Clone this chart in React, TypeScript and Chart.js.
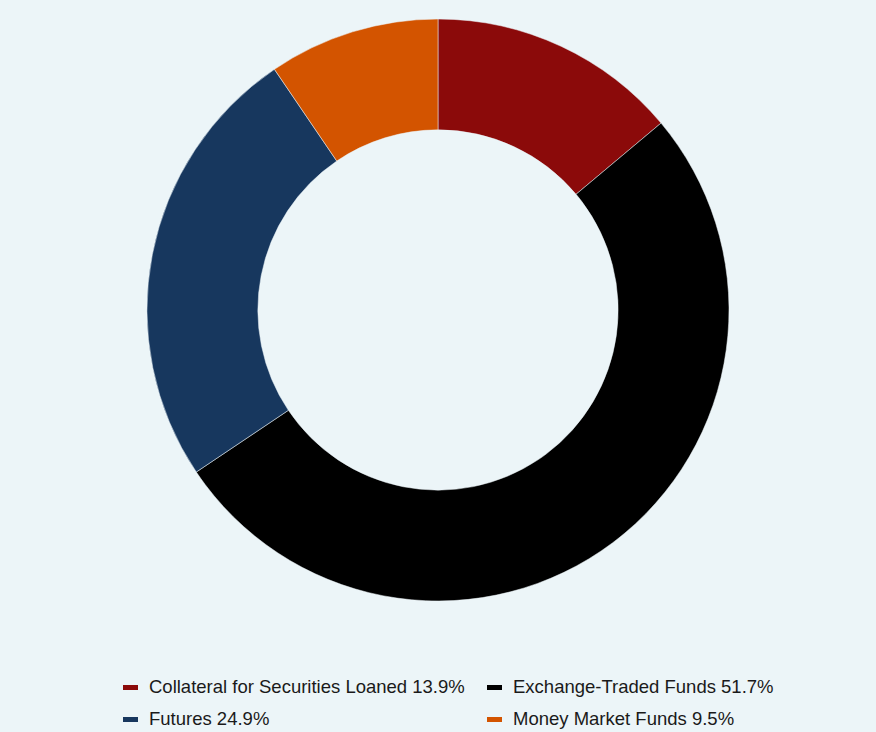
import React, { useRef, useEffect } from 'react';
import { Chart, registerables } from 'chart.js';

Chart.register(...registerables);

const categories = ['Collateral for Securities Loaned', 'Exchange-Traded Funds', 'Futures', 'Money Market Funds'];
const shares = [13.9, 51.7, 24.9, 9.5];
const colors = ['#8B0A0A', '#000000', '#17375E', '#D35400'];

const BG = '#ECF5F8';

const App = () => {
    const chartRef = useRef<HTMLCanvasElement>(null);
    const chartInstanceRef = useRef<Chart | null>(null);

    useEffect(() => {
        document.body.style.margin = '0';
        document.body.style.background = BG;
        document.body.style.overflow = 'hidden';

        if (chartRef.current && !chartInstanceRef.current) {
            const context = chartRef.current.getContext('2d');
            if (context) {
                chartInstanceRef.current = new Chart(context, {
                    type: 'doughnut',
                    data: {
                        labels: categories,
                        datasets: [
                            {
                                data: shares,
                                backgroundColor: colors,
                                borderColor: BG,
                                borderWidth: 0.5,
                                hoverOffset: 0,
                            },
                        ],
                    },
                    options: {
                        animation: false,
                        responsive: true,
                        maintainAspectRatio: false,
                        radius: 291,
                        cutout: '61.9%',
                        layout: { padding: 0 },
                        plugins: {
                            legend: { display: false },
                            tooltip: { enabled: false },
                        },
                    },
                });
            }
        }

        return () => {
            if (chartInstanceRef.current) {
                chartInstanceRef.current.destroy();
                chartInstanceRef.current = null;
            }
        };
    }, []);

    return (
        <div style={{ width: 876, height: 732, overflow: 'hidden', background: BG, fontFamily: '"Liberation Sans", Arial, sans-serif' }}>
            <div style={{ position: 'relative', width: 876, height: 620 }}>
                <canvas ref={chartRef} />
            </div>
            <div
                style={{
                    display: 'grid',
                    gridTemplateColumns: '364px auto',
                    marginLeft: 123,
                    marginTop: 51,
                    fontSize: 18.5,
                    color: '#1a1a1a',
                }}
            >
                {categories.map((c, i) => (
                    <div key={c} style={{ display: 'flex', alignItems: 'center', height: 32, whiteSpace: 'nowrap' }}>
                        <span style={{ display: 'inline-block', width: 15, height: 5, background: colors[i], marginRight: 11 }} />
                        <span>{c} {shares[i]}%</span>
                    </div>
                ))}
            </div>
        </div>
    );
};

export default App;
